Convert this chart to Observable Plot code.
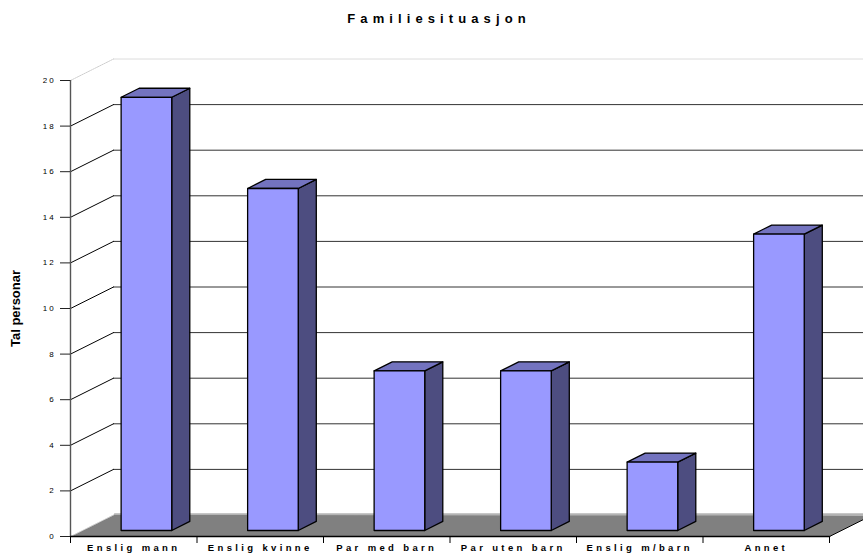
<!DOCTYPE html>
<html>
<head>
<meta charset="utf-8">
<script src="https://cdn.jsdelivr.net/npm/d3@7"></script>
<script src="https://cdn.jsdelivr.net/npm/@observablehq/plot@0.6"></script>
<style>
  html, body { margin: 0; padding: 0; background: #fff; overflow: hidden; }
  #chart-title {
    height: 40px; box-sizing: border-box; padding-top: 11px; padding-left: 15px;
    text-align: center; font: bold 13px "Liberation Sans", Arial, sans-serif;
    letter-spacing: 5.1px; color: #000;
  }
  svg { display: block; overflow: hidden; }
  .value-axis text { letter-spacing: 1.9px; }
  .category-axis text { letter-spacing: 3.35px; font-weight: bold; font-size: 9.5px; }
</style>
</head>
<body>
<div id="chart-title">Familiesituasjon</div>
<div id="chart"></div>
<script>
// Number of people per family situation
const categories = ["Enslig mann", "Enslig kvinne", "Par med barn", "Par uten barn", "Enslig m/barn", "Annet"];
const counts = [19, 15, 7, 7, 3, 13];
const valueTicks = [0, 2, 4, 6, 8, 10, 12, 14, 16, 18, 20];
const categoryEdges = [0, 1, 2, 3, 4, 5, 6];

// Oblique projection: depth 0 is the front of the floor, depth 1 the back wall.
const shearX = 0.34;   // category units per full depth
const shearY = 0.943;  // value units per full depth
const wallEnd = 6.5;
const barFront = 0.28, barBack = 0.70;
const barStart = 0.305, barEnd = 0.705;

const pt = (x, y, depth, key) => ({x: x + depth * shearX, y: y + depth * shearY, key});
const poly = (key, corners) => [...corners, corners[0]].map(([x, y, d]) => pt(x, y, d, key));

const wallLines = valueTicks.flatMap((v) => [pt(0, v, 1, v), pt(wallEnd, v, 1, v)]);
const sideLines = valueTicks.filter((v) => v > 0 && v < 20).flatMap((v) => [pt(0, v, 0, v), pt(0, v, 1, v)]);
const faintLines = [0, 20].flatMap((v) => [pt(0, v, 0, v), pt(0, v, 1, v)]);
const floor = poly("floor", [[0, 0, 0], [6, 0, 0], [6, 0, 1], [wallEnd, 0, 1], [wallEnd, 0, 0.98], [0, 0, 1]]);
const floorBack = [pt(0, 0, 1.03, "b"), pt(wallEnd, 0, 1.03, "b")];
const floorRight = [pt(6, 0, 0, "r"), pt(6, 0, 1, "r")];
const floorFront = [pt(0, 0, 0, "f"), pt(6, 0, 0, "f")];

const faces = (name, build) => counts.flatMap((v, i) => poly(`${name}${i}`, build(i + barStart, i + barEnd, v)));
const barFaces = faces("front", (a, b, v) => [[a, 0, barFront], [b, 0, barFront], [b, v, barFront], [a, v, barFront]]);
const barSides = faces("side", (a, b, v) => [[b, 0, barFront], [b, 0, barBack], [b, v, barBack], [b, v, barFront]]);
const barTops = faces("top", (a, b, v) => [[a, v, barFront], [b, v, barFront], [b, v, barBack], [a, v, barBack]]);

const polygon = (data, fill, extra = {}) =>
  Plot.line(data, {x: "x", y: "y", z: "key", fill, stroke: "#000", strokeWidth: 1.3, curve: "linear-closed", ...extra});
const seg = (data, stroke, extra = {}) =>
  Plot.line(data, {x: "x", y: "y", z: "key", stroke, strokeWidth: 1, ...extra});

const chart = Plot.plot({
  width: 863,
  height: 516,
  marginLeft: 70,
  marginRight: 34,
  marginTop: 40,
  marginBottom: 20,
  style: {fontFamily: '"Liberation Sans", Arial, sans-serif', fontSize: "8px", color: "#000", background: "#fff"},
  x: {type: "linear", domain: [0, 6]},
  y: {type: "linear", domain: [0, 20]},
  marks: [
    seg(wallLines.filter((d) => d.key > 0 && d.key < 20), "#333"),
    seg(wallLines.filter((d) => d.key === 20), "#dcdcdc"),
    seg(floorBack, "#b4b4b4", {strokeWidth: 2}),
    Plot.line(floor, {x: "x", y: "y", z: "key", fill: "#808080", stroke: "none"}),
    seg(sideLines, "#000"),
    seg(faintLines, "#cfcfcf", {strokeDasharray: "1.5,1"}),
    Plot.ruleX([0], {y1: 0, y2: 20, stroke: "#555", strokeWidth: 1.4}),
    seg(floorRight, "#000"),
    seg(floorFront, "#000", {strokeWidth: 1.6}),
    Plot.axisY(valueTicks, {
      anchor: "left", tickSize: 10, tickPadding: 5, stroke: "#222",
      tickFormat: (d) => d, label: null, className: "value-axis"
    }),
    Plot.axisX(categoryEdges, {
      anchor: "bottom", tickSize: 7, tickFormat: () => "", label: null, stroke: "#000"
    }),
    Plot.axisX(categories.map((_, i) => i + 0.5), {
      anchor: "bottom", tickSize: 0, tickPadding: 8, label: null, className: "category-axis",
      tickFormat: (d) => categories[Math.floor(d)]
    }),
    polygon(barSides, "#4d4d80"),
    polygon(barTops, "#7373bf"),
    polygon(barFaces, "#9999ff"),
    Plot.text(["Tal personar"], {
      frameAnchor: "left", textAnchor: "middle", dx: -54.5, rotate: -90,
      fontWeight: "bold", fontSize: 13, fill: "#000"
    })
  ]
});
document.getElementById("chart").append(chart);
</script>
</body>
</html>
